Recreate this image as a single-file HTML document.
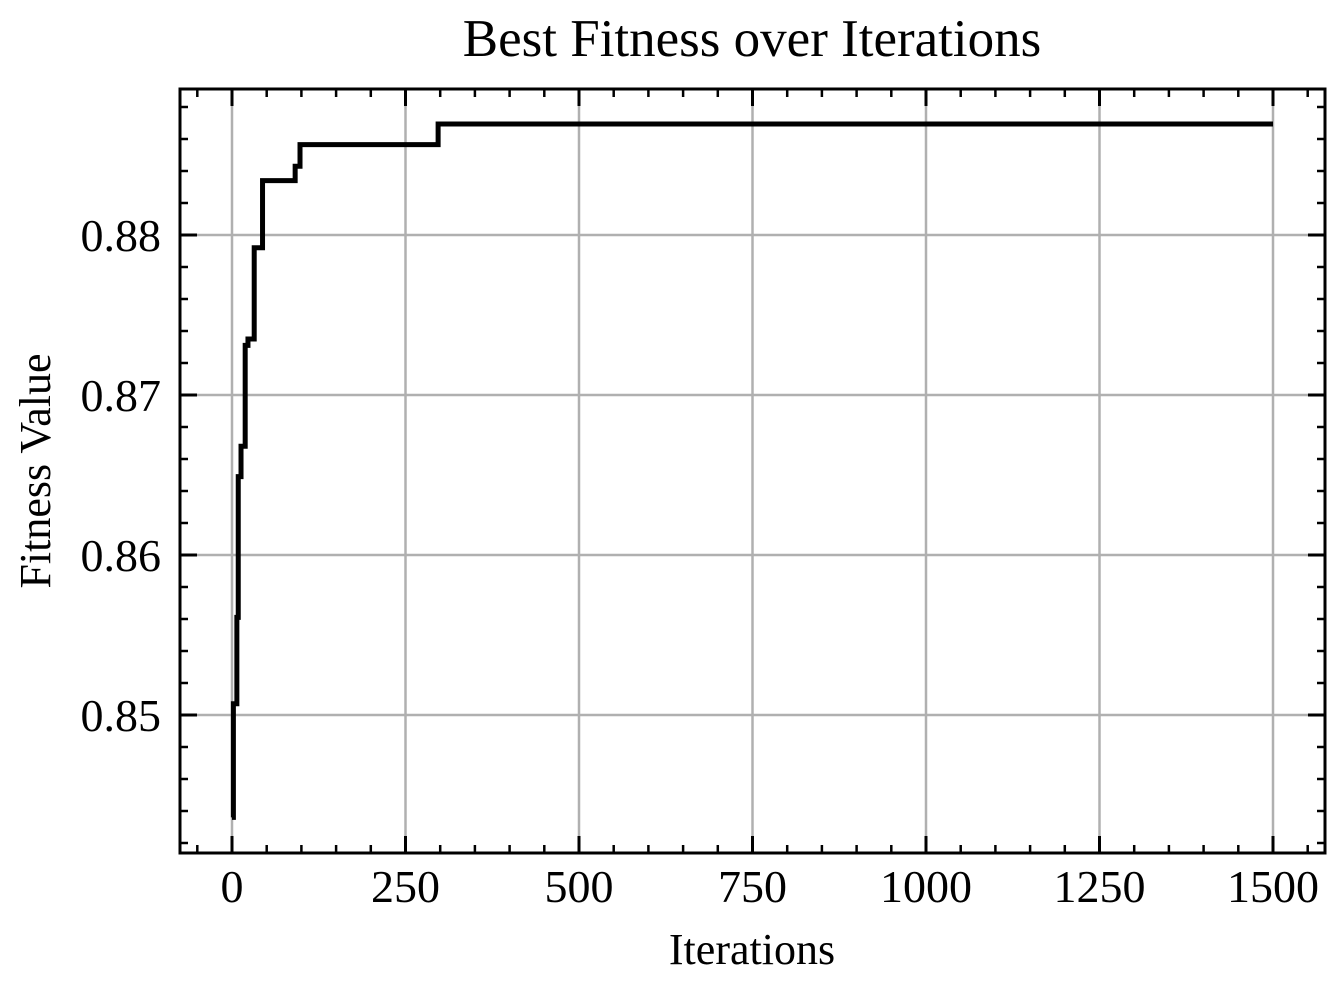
<!DOCTYPE html>
<html><head><meta charset="utf-8"><style>
html,body{margin:0;padding:0;background:#fff}
svg text{font-family:"Liberation Serif",serif;fill:#000}
</style></head><body>
<svg id="chart" width="1344" height="994" viewBox="0 0 1344 994" xmlns="http://www.w3.org/2000/svg">
<rect x="0" y="0" width="1344" height="994" fill="#fff"/>
<text x="752" y="56" font-size="53" text-anchor="middle">Best Fitness over Iterations</text>
<text x="752" y="964" font-size="44" text-anchor="middle">Iterations</text>
<text transform="translate(50,471) rotate(-90)" font-size="44" text-anchor="middle">Fitness Value</text>
<g id="grid"></g>
<g id="ticks"></g>
<g id="series"></g>
<rect x="180" y="89" width="1145" height="764" fill="none" stroke="#000" stroke-width="3"/>
</svg>
<script>
const iterations = [0, 2, 7, 9, 13, 19, 23, 32, 44, 91, 98, 297, 1500];
const fitness = [0.8436, 0.8507, 0.8561, 0.8649, 0.8668, 0.8731, 0.8735, 0.8792, 0.8834, 0.8843, 0.88565, 0.88694, 0.88694];
const xTicks = [0, 250, 500, 750, 1000, 1250, 1500];
const yTicks = [0.85, 0.86, 0.87, 0.88];
const xTickLabels = ["0", "250", "500", "750", "1000", "1250", "1500"];
const yTickLabels = ["0.85", "0.86", "0.87", "0.88"];

const L=180,R=1325,T=89,B=853;
function xs(v){return 232+(v-0)*(1273-232)/1500;}
function ys(v){return 235+(0.88-v)*16000;}
const NS="http://www.w3.org/2000/svg";
function mk(tag,attrs,parent){const e=document.createElementNS(NS,tag);for(const k in attrs)e.setAttribute(k,attrs[k]);parent.appendChild(e);return e;}
const grid=document.getElementById('grid'),ticks=document.getElementById('ticks'),series=document.getElementById('series');

xTicks.forEach((v,i)=>{
  const x=xs(v);
  const g=mk('line',{x1:x,x2:x,y1:T,y2:B,stroke:'#b0b0b0','stroke-width':2.5},grid);
  
  
  mk('line',{x1:x,x2:x,y1:B,y2:B-17,stroke:'#000','stroke-width':3},ticks);
  mk('line',{x1:x,x2:x,y1:T,y2:T+17,stroke:'#000','stroke-width':3},ticks);
  const t=mk('text',{x:x,y:902,'font-size':46,'text-anchor':'middle'},ticks);
  t.textContent=xTickLabels[i];
  
  
});
for(let v=-50;v<=1550;v+=50){
  if(v%250===0)continue;const x=xs(v);if(x<L||x>R)continue;
  mk('line',{x1:x,x2:x,y1:B,y2:B-8,stroke:'#000','stroke-width':2.5},ticks);
  mk('line',{x1:x,x2:x,y1:T,y2:T+8,stroke:'#000','stroke-width':2.5},ticks);
}
yTicks.forEach((v,i)=>{
  const y=ys(v);
  const g=mk('line',{x1:L,x2:R,y1:y,y2:y,stroke:'#b0b0b0','stroke-width':2.5},grid);
  
  
  mk('line',{x1:L,x2:L+17,y1:y,y2:y,stroke:'#000','stroke-width':3},ticks);
  mk('line',{x1:R,x2:R-17,y1:y,y2:y,stroke:'#000','stroke-width':3},ticks);
  const t=mk('text',{x:161,y:y+16,'font-size':46,'text-anchor':'end'},ticks);
  t.textContent=yTickLabels[i];
  
  
});
for(let k=0;k<40;k++){
  const v=0.838+k*0.002;const y=ys(v);
  if(y<T+2||y>B-2)continue;
  if(k%5===1)continue;
  mk('line',{x1:L,x2:L+8,y1:y,y2:y,stroke:'#000','stroke-width':2.5},ticks);
  mk('line',{x1:R,x2:R-8,y1:y,y2:y,stroke:'#000','stroke-width':2.5},ticks);
}
let d='';
iterations.forEach((it,i)=>{
  const x=xs(it),y=ys(fitness[i]);
  if(i===0)d+='M'+x+','+y;
  else d+=' H'+x+' V'+y;
});
const p=mk('path',{d:d,fill:'none',stroke:'#000','stroke-width':5,'stroke-linejoin':'miter'},series);


</script>
</body></html>
